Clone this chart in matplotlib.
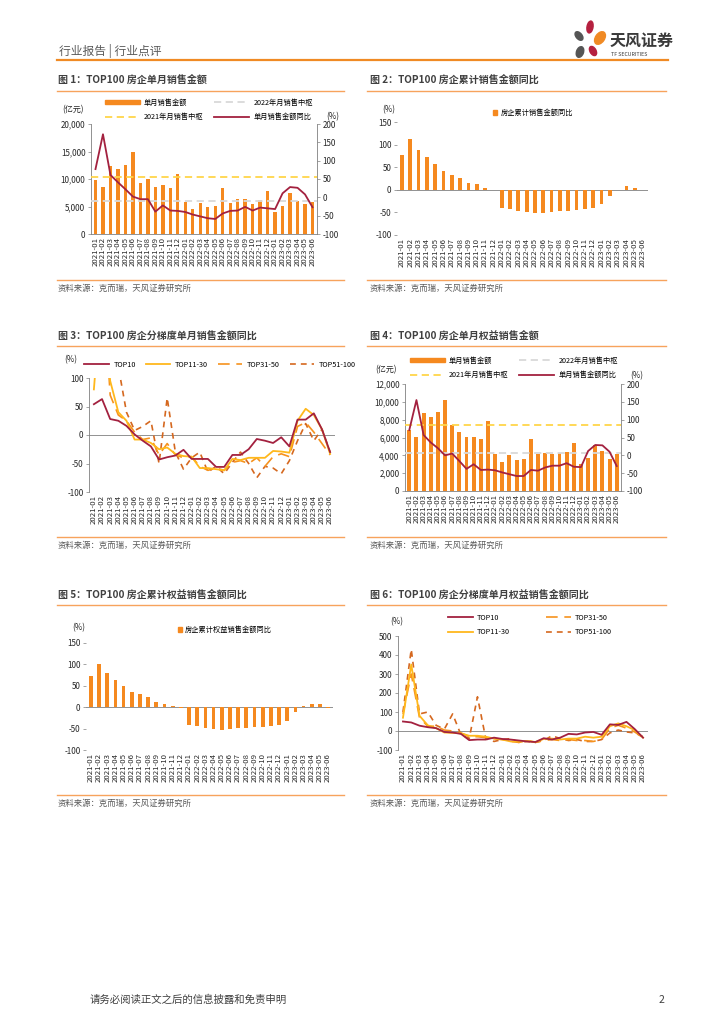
import matplotlib
matplotlib.use("Agg")
import matplotlib.pyplot as plt
import numpy as np
from matplotlib.lines import Line2D
from matplotlib.patches import Patch, Ellipse
from matplotlib.ticker import FuncFormatter

plt.rcParams['font.family'] = ['Noto Sans CJK SC', 'DejaVu Sans']
plt.rcParams['axes.unicode_minus'] = False

# ---- data ----
months = [f"{y}-{m:02d}" for y in (2021, 2022) for m in range(1, 13)] + [f"2023-{m:02d}" for m in range(1, 7)]

# fig 1: TOP100 monthly sales (亿元) and yoy (%)
sales = [9800, 8600, 12300, 11800, 12600, 15000, 9200, 10000, 8600, 8900, 8400, 11000,
         5900, 4600, 5700, 4900, 5100, 8300, 5700, 6400, 6400, 5400, 6100, 7800,
         4000, 5100, 7500, 6000, 5500, 5800]
sales_yoy = [77, 172, 61, 41, 22, 2, -5, -5, -39, -22, -36, -37,
             -40, -47, -52, -57, -59, -44, -37, -36, -26, -36, -28, -30,
             -32, 11, 28, 26, 8, -27]
median_2021 = 10450
median_2022 = 6050

# fig 2: cumulative sales yoy (%)
cum_yoy = [76, 112, 88, 72, 58, 41, 33, 26, 16, 12, 5, -1,
           -40, -42, -46, -49, -52, -51, -49, -47, -46, -45, -43, -41,
           -32, -14, 0, 8, 5, -1]

# fig 3: monthly sales yoy by tier (%)
t10 = [54, 63, 28, 25, 16, 1, -10, -20, -43, -39, -36, -26,
       -42, -42, -42, -56, -56, -35, -35, -25, -7, -10, -14, -4,
       -20, 27, 27, 38, 10, -30]
t11_30 = [80, 260, 95, 40, 25, -8, -8, -14, -25, -22, -33, -37,
          -38, -58, -58, -60, -62, -42, -44, -40, -40, -40, -28, -29,
          -31, 25, 46, 35, 10, -33]
t31_50 = [140, 300, 70, 35, 25, 5, -8, -5, -35, -15, -35, -40,
          -38, -55, -62, -58, -62, -48, -45, -50, -40, -55, -38, -33,
          -38, 15, 22, 5, -15, -35]
t51_100 = [160, 420, 140, 120, 40, 8, 15, 25, -50, 65, -30, -60,
           -40, -30, -65, -55, -68, -48, -30, -50, -75, -55, -58, -68,
           -45, -10, 20, -10, 10, -30]

# fig 4: TOP100 monthly equity sales (亿元) and yoy (%)
eq_sales = [6800, 6100, 8800, 8300, 8900, 10200, 7400, 6600, 6100, 6100, 5800, 7850,
            4150, 3250, 4000, 3500, 3600, 5800, 4150, 4300, 4200, 4250, 4350, 5400,
            3000, 3700, 5150, 4500, 3550, 4200]
eq_yoy = [71, 155, 57, 36, 20, 0, 5, -16, -38, -25, -41, -40,
          -42, -48, -53, -58, -58, -41, -43, -34, -29, -29, -22, -32,
          -33, 12, 29, 28, 10, -30]
eq_median_2021 = 7400
eq_median_2022 = 4300

# fig 5: cumulative equity sales yoy (%)
eq_cum_yoy = [72, 102, 79, 63, 50, 35, 30, 23, 12, 8, 2, -3,
              -41, -43, -48, -50, -53, -50, -49, -48, -46, -46, -43, -42,
              -32, -11, 2, 8, 7, -2]

# fig 6: monthly equity sales yoy by tier (%)
e10 = [50, 45, 28, 20, 15, -5, -8, -15, -48, -45, -45, -35,
       -42, -45, -50, -55, -58, -38, -45, -35, -15, -18, -8, -5,
       -20, 35, 32, 48, 10, -35]
e11_30 = [70, 350, 80, 30, 15, -8, -10, -12, -25, -25, -30, -40,
          -45, -55, -55, -52, -58, -42, -40, -45, -40, -40, -30, -35,
          -30, 25, 40, 25, 5, -35]
e31_50 = [90, 300, 70, 25, 25, 5, 0, -10, -30, -30, -35, -40,
          -45, -55, -60, -50, -60, -50, -45, -50, -45, -50, -50, -55,
          -45, 15, 30, 15, -5, -35]
e51_100 = [100, 430, 90, 100, 30, 10, 90, -20, -40, 180, -40, -55,
           -45, -40, -60, -55, -60, -50, -25, -40, -50, -45, -55, -55,
           -45, -10, 5, -5, -10, -30]

# ---- style ----
ORANGE = '#F5891F'
RED = '#A3213F'
YEL = '#FFB81C'
ORG2 = '#F6921E'
BROWN = '#D5681F'
MED21 = '#FFD54A'
MED22 = '#D9D9D9'
GRID = '#808080'
TXT = '#404040'
LINE_OR = '#F7A35C'

W, H = 724, 1024
fig = plt.figure(figsize=(7.24, 10.24), dpi=100)


def px(x, y):
    return x / W, 1 - y / H


def hline(x0, x1, y, color=LINE_OR, lw=1.0):
    a, b = px(x0, y)
    c, _ = px(x1, y)
    fig.add_artist(Line2D([a, c], [b, b], color=color, lw=lw, transform=fig.transFigure))


def add_ax(left, top, right, bottom):
    l, t = px(left, top)
    r, b = px(right, bottom)
    return fig.add_axes([l, b, r - l, t - b])


x = np.arange(len(months))
thousands = FuncFormatter(lambda v, p: f"{int(v):,}")


def base_style(ax, zero_line=True, left_spine=True):
    for s in ('top', 'right'):
        ax.spines[s].set_visible(False)
    ax.spines['bottom'].set_visible(not zero_line)
    ax.spines['left'].set_visible(left_spine)
    ax.spines['left'].set_color(GRID)
    ax.spines['bottom'].set_color(GRID)
    ax.spines['left'].set_linewidth(0.6)
    ax.spines['bottom'].set_linewidth(0.6)
    if zero_line:
        ax.axhline(0, color=GRID, lw=0.6, zorder=1)
    ax.set_xlim(-0.6, len(months) - 0.4)
    ax.set_xticks(x)
    ax.set_xticklabels(months, rotation=90, fontsize=5.6, color='#262626')
    ax.tick_params(axis='x', length=0, pad=2)
    ax.tick_params(axis='y', labelsize=5.8, length=2, width=0.5, colors=GRID, labelcolor='#262626', pad=2)
    ax.patch.set_alpha(0)


# ---- header / footer ----
fig.text(*px(59, 51), "行业报告 | 行业点评", fontsize=8.5, color='#595959', va='center')
hline(57, 668, 59.5, color='#F08A24', lw=1.6)

# logo
lg = fig.add_axes([570 / W, 1 - 60 / H, 40 / W, 40 / H])
lg.set_xlim(0, 40)
lg.set_ylim(0, 40)
lg.axis('off')
lg.add_patch(Ellipse((20, 33), 6, 12, angle=-10, color='#B5203F'))
lg.add_patch(Ellipse((30, 22), 9, 14, angle=-35, color='#F08A24'))
lg.add_patch(Ellipse((9, 24), 6, 10, angle=40, color='#555555'))
lg.add_patch(Ellipse((10, 8), 7, 11, angle=-20, color='#555555'))
lg.add_patch(Ellipse((23, 9), 6, 10, angle=30, color='#B5203F'))
fig.text(*px(610, 41), "天风证券", fontsize=11.5, fontweight='bold', color='#3A3A3A', va='center')
fig.text(*px(611, 55), "TF SECURITIES", fontsize=3.8, color='#3A3A3A', va='center')

fig.text(*px(90, 1000), "请务必阅读正文之后的信息披露和免责申明", fontsize=7.5, color='#404040', va='center')
fig.text(*px(664, 1000), "2", fontsize=7.5, color='#404040', va='center', ha='right')

# ---- titles and sources ----
titles = [
    (58, 80, 57, 344, 91, "图 1：TOP100 房企单月销售金额"),
    (370, 80, 367, 666, 91, "图 2：TOP100 房企累计销售金额同比"),
    (58, 336, 57, 344, 346, "图 3：TOP100 房企分梯度单月销售金额同比"),
    (370, 336, 367, 666, 346, "图 4：TOP100 房企单月权益销售金额"),
    (58, 595, 57, 344, 605, "图 5：TOP100 房企累计权益销售金额同比"),
    (370, 595, 367, 666, 605, "图 6：TOP100 房企分梯度单月权益销售金额同比"),
]
for tx, ty, l0, l1, ly, s in titles:
    fig.text(*px(tx, ty), s, fontsize=7.2, fontweight='bold', color=TXT, va='center')
    hline(l0, l1, ly)

sources = [(58, 288, 57, 344, 280), (370, 288, 367, 666, 280),
           (58, 545, 57, 344, 537), (370, 545, 367, 666, 537),
           (58, 803, 57, 344, 795), (370, 803, 367, 666, 795)]
for tx, ty, l0, l1, ly in sources:
    fig.text(*px(tx, ty), "资料来源：克而瑞，天风证券研究所", fontsize=6, color='#595959', va='center')
    hline(l0, l1, ly)


# ---- bar + yoy line charts (fig 1, fig 4) ----
def bar_line(box, vals, yoy, m21, m22, ymax, ystep, unit_xy, pct_xy, leg_anchor, bar_w):
    ax = add_ax(*box)
    base_style(ax, zero_line=False)
    ax.bar(x, vals, width=bar_w, color=ORANGE, zorder=2)
    ax.axhline(m21, color=MED21, lw=1.3, ls=(0, (4, 2.5)), zorder=3)
    ax.axhline(m22, color=MED22, lw=1.3, ls=(0, (4, 2.5)), zorder=3)
    ax.set_ylim(0, ymax)
    ax.set_yticks(np.arange(0, ymax + 1, ystep))
    ax.yaxis.set_major_formatter(thousands)
    ax2 = ax.twinx()
    ax2.plot(x, yoy, color=RED, lw=1.3, zorder=4)
    ax2.set_ylim(-100, 200)
    ax2.set_yticks(np.arange(-100, 201, 50))
    for s in ('top', 'left', 'bottom'):
        ax2.spines[s].set_visible(False)
    ax2.spines['right'].set_color(GRID)
    ax2.spines['right'].set_linewidth(0.6)
    ax2.tick_params(axis='y', labelsize=5.8, length=2, width=0.5, colors=GRID, labelcolor='#262626', pad=2)
    ax.spines['bottom'].set_visible(True)
    fig.text(*px(*unit_xy), "(亿元)", fontsize=5.8, color='#262626', va='center')
    fig.text(*px(*pct_xy), "(%)", fontsize=5.8, color='#262626', va='center')
    handles = [Patch(color=ORANGE),
               Line2D([], [], color=MED21, lw=1.3, ls=(0, (4, 2.5))),
               Line2D([], [], color=MED22, lw=1.3, ls=(0, (4, 2.5))),
               Line2D([], [], color=RED, lw=1.3)]
    labels = ["单月销售金额", "2021年月销售中枢", "2022年月销售中枢", "单月销售金额同比"]
    fig.legend(handles, labels, ncol=2, loc='center', bbox_to_anchor=px(*leg_anchor),
               fontsize=5.2, frameon=False, handlelength=4.8, handleheight=0.5,
               columnspacing=1.5, labelspacing=0.9, handletextpad=0.6)
    return ax


bar_line((91, 124, 317, 234), sales, sales_yoy, median_2021, median_2022,
         20000, 5000, (62, 110), (326, 117), (209, 110), 0.45)
bar_line((405, 384, 621, 491), eq_sales, eq_yoy, eq_median_2021, eq_median_2022,
         12000, 2000, (375, 370), (630, 376), (514, 368), 0.55)


# ---- cumulative yoy bars (fig 2, fig 5) ----
def cum_bars(box, vals, label, leg_anchor, pct_xy):
    ax = add_ax(*box)
    base_style(ax, zero_line=True, left_spine=False)
    ax.bar(x, vals, width=0.45, color=ORANGE, zorder=2)
    ax.set_ylim(-100, 150)
    ax.set_yticks(np.arange(-100, 151, 50))
    fig.text(*px(*pct_xy), "(%)", fontsize=5.8, color='#262626', va='center')
    fig.legend([Patch(color=ORANGE)], [label], loc='center', bbox_to_anchor=px(*leg_anchor),
               fontsize=5.2, frameon=False, handlelength=0.5, handleheight=0.8, handletextpad=0.5)
    return ax


cum_bars((397, 122, 648, 235), cum_yoy, "房企累计销售金额同比", (533, 113), (382, 110))
cum_bars((86, 643, 333, 750), eq_cum_yoy, "房企累计权益销售金额同比", (225, 630), (72, 628))


# ---- tier yoy lines (fig 3, fig 6) ----
def tier_lines(box, series, ylim, ystep, pct_xy, leg_anchor, ncol, colspace):
    ax = add_ax(*box)
    base_style(ax, zero_line=True, left_spine=True)
    styles = [dict(color=RED, lw=1.3, ls='-'),
              dict(color=YEL, lw=1.3, ls='-'),
              dict(color=ORG2, lw=1.2, ls=(0, (7, 4))),
              dict(color=BROWN, lw=1.2, ls=(0, (3.5, 3)))]
    names = ["TOP10", "TOP11-30", "TOP31-50", "TOP51-100"]
    order = [3, 2, 1, 0]
    for i in order:
        ax.plot(x, series[i], zorder=3 + (3 - i), **styles[i])
    ax.set_ylim(*ylim)
    ax.set_yticks(np.arange(ylim[0], ylim[1] + 1, ystep))
    fig.text(*px(*pct_xy), "(%)", fontsize=5.8, color='#262626', va='center')
    handles = [Line2D([], [], **s) for s in styles]
    fig.legend(handles, names, ncol=ncol, loc='center', bbox_to_anchor=px(*leg_anchor),
               fontsize=5.2, frameon=False, handlelength=3.4, columnspacing=colspace,
               labelspacing=0.9, handletextpad=0.6)
    return ax


tier_lines((89, 378, 335, 492), [t10, t11_30, t31_50, t51_100], (-100, 100), 50,
           (64, 360), (220, 365), 4, 1.4)
tier_lines((398, 636, 648, 750), [e10, e11_30, e31_50, e51_100], (-100, 500), 100,
           (390, 622), (530, 625), 2, 5)

fig.savefig("out.png", dpi=100)
